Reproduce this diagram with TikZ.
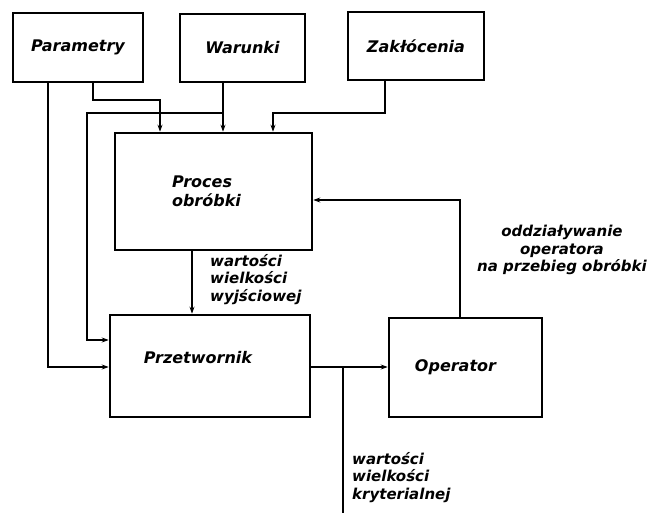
\documentclass[tikz,border=0pt]{standalone}
\usepackage{fontspec}
\setmainfont{DejaVu Sans}
\usetikzlibrary{arrows.meta}
\tikzset{>={Stealth[length=7pt,width=5pt]}}
\tikzset{%
    blok/.style={draw, line width=2.6pt, inner sep=0pt,
        font=\fontsize{16}{19}\selectfont\bfseries\itshape},
    conn/.style={line width=1.5pt},
    opis/.style={inner sep=0pt, font=\fontsize{15}{17.5}\selectfont\bfseries\itshape}
}

\begin{document}
\begin{tikzpicture}[x=1pt,y=-1pt]
\useasboundingbox (0,0) rectangle (658,513);

\node[blok, minimum width=130, minimum height=69] (par) at (78,47.5) {Parametry};
\node[blok, minimum width=125, minimum height=68] (war) at (242.5,48) {Warunki};
\node[blok, minimum width=136, minimum height=68] (zak) at (416,46) {Zakłócenia};
\node[blok, minimum width=197, minimum height=117, align=left] (proc) at (213.5,191.5) {Proces\\obróbki\kern14pt};
\node[blok, minimum width=200, minimum height=102, text depth=18pt] (prz) at (210,366) {Przetwornik\kern24pt};
\node[blok, minimum width=153, minimum height=99] (op) at (465.5,367.5) {Operator\kern20pt};

\coordinate (pL) at (48,367);
\coordinate (pR) at (93,100);
\coordinate (pin) at (160,100);
\coordinate (wx) at (223,113);
\coordinate (fb) at (87,113);
\coordinate (fbin) at (87,340);
\coordinate (zk) at (385,113);
\coordinate (zin) at (273,113);
\coordinate (wy) at (192,280);
\coordinate (od) at (460,200);
\coordinate (ky) at (343,367);
\coordinate (kout) at (343,513);

\draw[->,conn] (par.south -| pL) -- (pL) -- (prz.west |- pL);
\draw[->,conn] (par.south -| pR) -- (pR) -- (pin) -- (proc.north -| pin);
\draw[->,conn] (war.south -| wx) -- (proc.north -| wx);
\draw[->,conn] (wx) -- (fb) -- (fbin) -- (prz.west |- fbin);
\draw[->,conn] (zak.south -| zk) -- (zk) -- (zin) -- (proc.north -| zin);

\draw[->,conn] (proc.south -| wy) -- (prz.north -| wy);
\draw[->,conn] (op.north -| od) -- (od) -- (proc.east |- od);
\draw[->,conn] (prz.east |- ky) -- (op.west |- ky);
\draw[conn] (ky) -- (kout);

\node[opis, anchor=north west, align=left] (wyj) at (210,254) {wartości\\wielkości\\wyjściowej};
\node[opis, anchor=north, align=center] (odd) at (562,225) {oddziaływanie\\operatora\\na przebieg obróbki};
\node[opis, anchor=north west, align=left] (kryt) at (352,452) {wartości\\wielkości\\kryterialnej};
\end{tikzpicture}
\end{document}
